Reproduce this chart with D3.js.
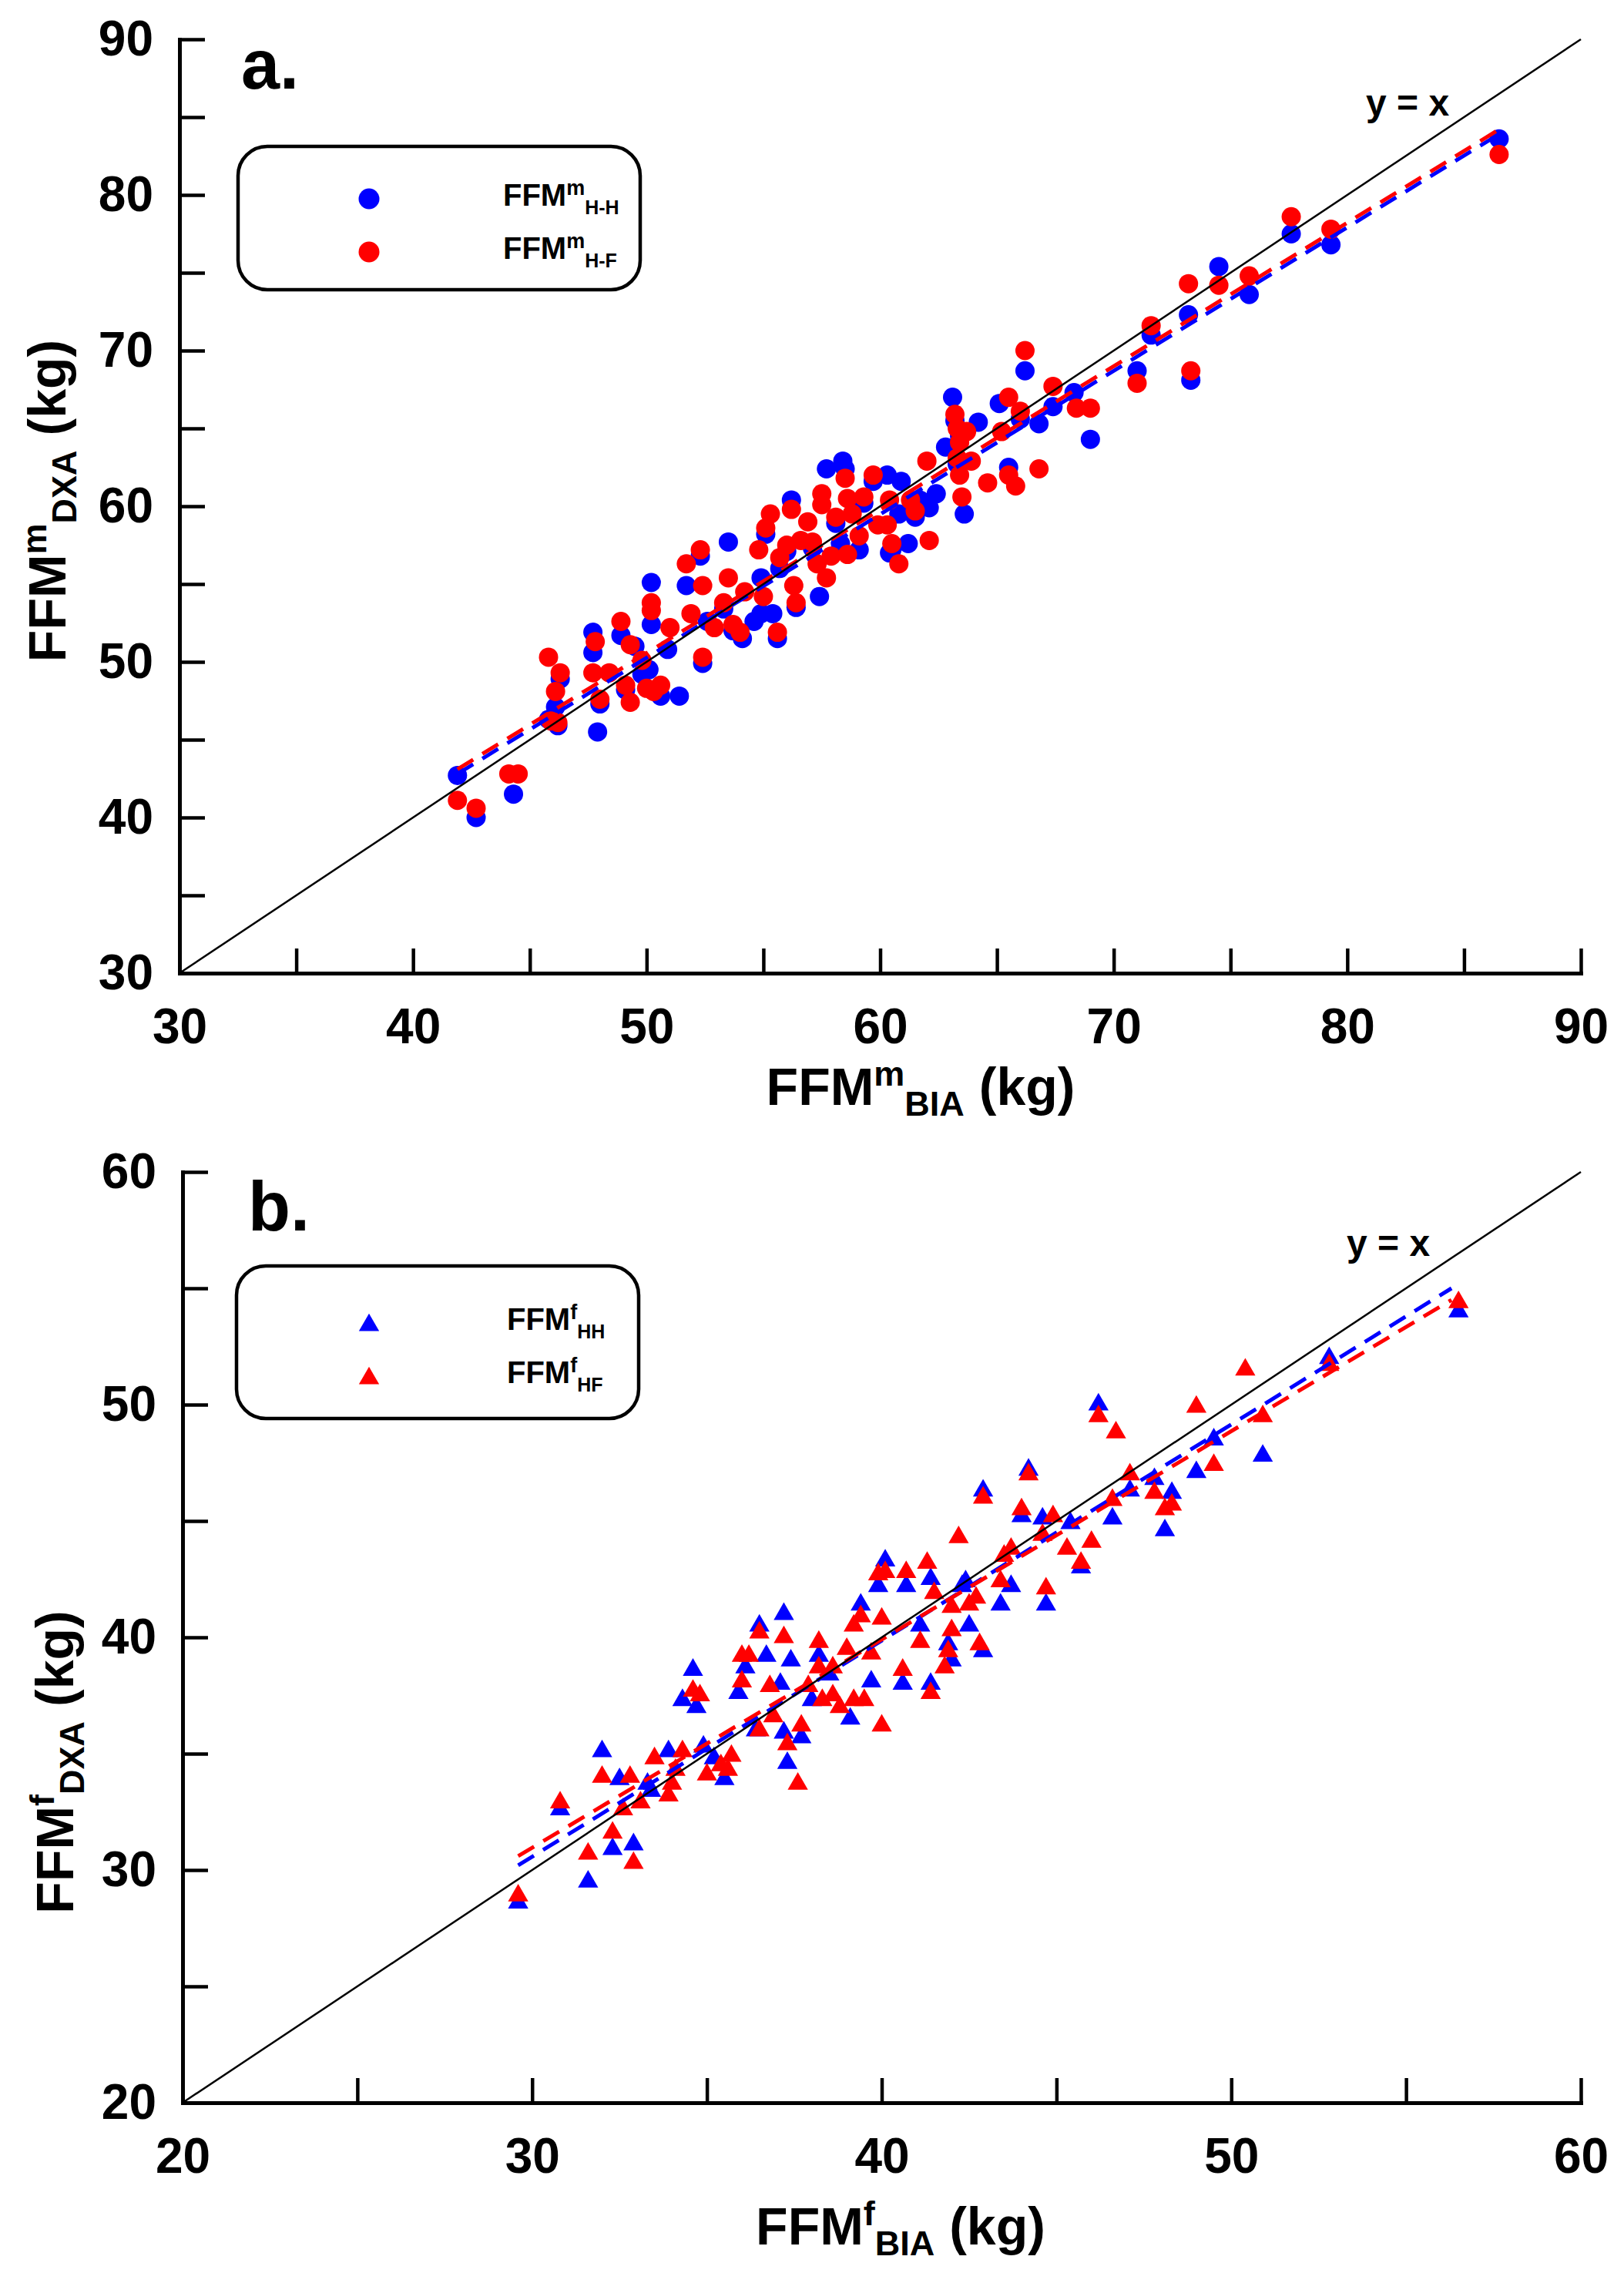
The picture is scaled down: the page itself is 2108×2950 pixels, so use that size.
<!DOCTYPE html>
<html><head><meta charset="utf-8">
<script src="https://cdn.jsdelivr.net/npm/d3@7"></script>
<style>
body{margin:0;background:#fff}
svg text{font-family:"Liberation Sans",Arial,Helvetica,sans-serif;font-weight:bold;fill:#000}
</style></head>
<body><svg id="c" width="2108" height="2950"></svg>
<script>
// ---------- DATA ----------
// Panel a (males): [FFM_BIA, FFM_DXA]
const maleHH = [[41.9,42.7],[42.7,40.0],[44.3,41.5],[45.8,46.3],[46.1,47.1],[46.3,48.9],[47.7,51.9],[47.7,50.6],[47.9,45.5],[48.9,51.7],[49.5,51.0],[49.8,49.2],[50.2,55.1],[50.2,52.4],[50.1,49.5],[50.6,47.8],[50.9,50.8],[51.4,47.8],[51.7,54.9],[52.4,49.9],[52.6,52.6],[53.5,57.7],[54.1,51.5],[54.6,52.6],[54.9,55.4],[54.9,53.1],[55.4,53.1],[55.7,56.0],[56.2,60.4],[57.4,54.2],[57.7,62.4],[58.3,57.6],[58.4,62.9],[58.5,62.4],[59.1,57.2],[60.3,62.0],[60.4,57.0],[60.8,59.5],[60.9,61.6],[61.2,57.6],[61.7,60.4],[62.1,59.9],[62.4,60.8],[62.8,63.8],[63.1,67.0],[63.6,59.5],[64.2,65.4],[65.1,66.6],[66.0,65.6],[66.2,68.7],[66.8,65.3],[67.4,66.4],[68.3,67.3],[69.0,64.3],[71.0,68.7],[71.6,71.0],[73.2,72.3],[73.3,68.1],[74.5,75.4],[75.8,73.6],[77.6,77.5],[79.3,76.8],[86.5,83.6],
[46.2,45.9],[48.0,47.3],[49.1,48.2],[52.3,56.8],[53.3,53.4],[55.1,58.2],[56.0,57.1],[57.1,57.3],[58.1,58.9],[59.7,61.6],[60.5,57.2],[61.5,59.3],[63.3,62.7],[63.4,64.5],[65.5,62.5],[55.6,51.5],[53.7,52.0],[56.4,53.5],[59.3,60.2],[63.2,65.5]];
const maleHF = [[41.9,41.1],[42.7,40.6],[44.1,42.8],[44.5,42.8],[45.9,46.2],[45.8,50.3],[46.1,48.1],[46.2,46.1],[46.3,49.3],[47.8,51.3],[47.7,49.3],[48.0,47.6],[48.4,49.3],[48.9,52.6],[49.1,48.5],[49.3,47.4],[49.3,51.1],[49.8,50.1],[50.0,48.3],[50.2,53.8],[50.2,53.3],[50.3,48.1],[50.6,48.5],[51.0,52.2],[51.7,56.3],[51.9,53.1],[52.3,57.2],[52.4,54.9],[52.4,50.3],[52.9,52.2],[53.3,53.8],[53.5,55.4],[53.7,52.4],[54.0,51.9],[54.2,54.5],[54.8,57.2],[55.0,54.2],[55.1,58.6],[55.3,59.5],[55.6,51.9],[55.7,56.7],[56.0,57.5],[56.2,59.8],[56.3,54.9],[56.4,53.8],[56.6,57.8],[56.9,59.0],[57.1,57.7],[57.3,56.3],[57.5,60.8],[57.5,60.1],[57.7,55.4],[57.9,56.8],[58.1,59.3],[58.5,61.8],[58.6,60.5],[58.6,56.9],[58.8,59.5],[59.1,58.1],[59.3,60.6],[59.7,62.0],[59.9,58.8],[60.4,60.4],[60.3,58.8],[60.5,57.6],[60.8,56.3],[61.3,60.4],[61.5,59.7],[62.0,62.9],[62.1,57.8],[63.2,65.9],[63.3,65.0],[63.4,64.1],[63.3,63.1],[63.4,62.0],[63.5,60.6],[63.7,64.8],[63.9,62.9],[64.6,61.5],[65.2,64.8],[65.5,67.0],[65.5,62.0],[65.8,61.3],[66.0,66.1],[66.2,70.0],[66.8,62.4],[67.4,67.7],[68.4,66.3],[69.0,66.3],[71.0,67.9],[71.6,71.6],[73.2,74.3],[73.3,68.7],[74.5,74.2],[75.8,74.8],[77.6,78.6],[79.3,77.8],[86.5,82.6]];
const maleFitHH = [[41.9,42.8],[86.6,84.0]];
const maleFitHF = [[41.9,43.1],[86.6,84.3]];

// Panel b (females)
const femaleHH = [[29.6,28.6],[30.8,32.6],[31.6,29.5],[32.0,35.1],[32.3,30.9],[32.5,33.9],[32.9,31.1],[33.3,33.7],[33.4,33.4],[33.9,35.1],[34.3,37.3],[34.6,38.6],[34.7,37.0],[34.9,35.3],[35.2,34.8],[35.5,33.9],[35.9,37.6],[36.1,38.7],[36.4,36.0],[36.5,40.5],[36.7,39.2],[37.1,38.0],[37.2,41.0],[37.2,35.9],[37.3,34.6],[37.4,39.0],[37.7,35.7],[38.0,37.3],[38.2,39.2],[38.5,38.4],[39.1,36.5],[39.4,41.4],[39.7,38.1],[39.9,42.2],[40.1,43.3],[40.6,38.0],[40.7,42.2],[41.1,40.5],[41.4,42.5],[41.4,38.0],[41.9,39.7],[42.0,39.0],[42.3,42.2],[42.4,42.4],[42.5,40.5],[42.9,46.3],[42.9,39.4],[43.4,41.4],[43.7,42.2],[44.0,45.2],[44.2,47.2],[44.6,45.1],[44.7,41.4],[45.4,44.9],[45.7,43.0],[46.2,50.0],[46.6,45.1],[47.1,46.3],[47.8,46.8],[48.1,44.6],[48.3,46.2],[49.0,47.1],[49.5,48.5],[50.9,47.8],[52.8,52.0],[56.5,54.0]];
const femaleHF = [[29.6,28.9],[30.8,32.9],[31.6,30.7],[32.0,34.0],[32.3,31.6],[32.6,32.6],[32.9,30.3],[32.8,34.0],[33.1,32.9],[33.5,34.8],[33.9,33.2],[34.0,33.7],[34.1,34.3],[34.3,35.1],[34.6,37.7],[34.8,37.5],[35.0,34.1],[35.4,34.5],[35.6,34.3],[35.7,34.9],[36.0,38.1],[36.0,39.2],[36.2,39.2],[36.5,36.0],[36.5,40.2],[36.8,37.9],[36.9,36.6],[37.2,40.0],[37.3,35.4],[37.6,33.7],[37.7,36.2],[37.9,37.9],[38.2,38.7],[38.2,39.8],[38.3,37.3],[38.6,38.7],[38.6,37.5],[38.8,37.0],[39.0,39.5],[39.2,37.3],[39.5,37.3],[39.2,40.5],[39.4,40.9],[39.7,39.3],[39.9,42.7],[40.0,40.8],[40.1,42.8],[40.0,36.2],[40.6,38.6],[40.7,42.8],[41.1,39.8],[41.3,43.2],[41.4,37.6],[41.5,41.9],[41.8,38.7],[41.9,39.4],[42.0,40.3],[42.0,41.3],[42.2,44.3],[42.5,41.4],[42.7,41.7],[42.8,39.7],[42.9,46.0],[43.4,42.4],[43.5,43.5],[43.7,43.8],[44.0,45.5],[44.2,47.0],[44.6,44.4],[44.7,42.1],[44.9,45.2],[45.3,43.8],[45.7,43.2],[46.0,44.1],[46.2,49.5],[46.6,45.9],[46.7,48.8],[47.1,47.0],[47.8,46.2],[48.1,45.5],[48.3,45.7],[49.0,49.9],[49.5,47.4],[50.4,51.5],[50.9,49.5],[52.8,51.7],[56.5,54.4]];
const femaleFitHH = [[29.6,30.2],[56.3,55.0]];
const femaleFitHF = [[29.6,30.6],[56.3,54.5]];

const maleDomain = [30, 90];
const maleTicks = [30,35,40,45,50,55,60,65,70,75,80,85,90];
const maleTickLabels = [30,40,50,60,70,80,90];
const femaleDomain = [20, 60];
const femaleTicks = [20,25,30,35,40,45,50,55,60];
const femaleTickLabels = [20,30,40,50,60];

// ---------- DRAW ----------
const svg = d3.select("#c");
svg.append("rect").attr("width",2108).attr("height",2950).attr("fill","#fff");
const BLUE="#0000ff", RED="#ff0000";

function panel(o){
  const g = svg.append("g").attr("transform",`translate(${o.left},${o.top})`);
  const x = d3.scaleLinear().domain(o.domain).range([0,o.w]);
  const y = d3.scaleLinear().domain(o.domain).range([o.h,0]);

  const drawPts = (data,color)=>{
    if(o.shape==="circle"){
      g.append("g").selectAll("circle").data(data).join("circle")
        .attr("cx",d=>x(d[0])).attr("cy",d=>y(d[1])).attr("r",12.5).attr("fill",color);
    } else {
      const sym = d3.symbol().type(d3.symbolTriangle).size(300);
      g.append("g").selectAll("path").data(data).join("path")
        .attr("d",sym).attr("transform",d=>`translate(${x(d[0])},${y(d[1])})`).attr("fill",color);
    }
  };
  drawPts(o.s1,BLUE);
  drawPts(o.s2,RED);

  const line = d3.line().x(d=>x(d[0])).y(d=>y(d[1]));
  g.append("path").datum(o.fit1).attr("d",line).attr("stroke",BLUE).attr("stroke-width",5)
    .attr("stroke-dasharray","24,14").attr("fill","none");
  g.append("path").datum(o.fit2).attr("d",line).attr("stroke",RED).attr("stroke-width",5)
    .attr("stroke-dasharray","24,14").attr("fill","none");
  g.append("path").datum([[o.domain[0],o.domain[0]],[o.domain[1],o.domain[1]]]).attr("d",line)
    .attr("stroke","#000").attr("stroke-width",2.5).attr("fill","none");

  const fmt = d=> o.labels.includes(d) ? d : "";
  const xa = g.append("g").attr("transform",`translate(0,${o.h})`)
    .call(d3.axisBottom(x).tickValues(o.ticks).tickSizeInner(-32).tickSizeOuter(0).tickPadding(46).tickFormat(fmt));
  const ya = g.append("g")
    .call(d3.axisLeft(y).tickValues(o.ticks).tickSizeInner(-33).tickSizeOuter(0).tickPadding(34).tickFormat(fmt));
  [xa,ya].forEach(a=>{
    a.attr("font-family",null).attr("font-size",null);
    a.select(".domain").attr("stroke","#000").attr("stroke-width",5).attr("stroke-linecap","square");
    a.selectAll(".tick line").attr("stroke","#000").attr("stroke-width",4.5);
    a.selectAll(".tick text").attr("font-size",64).attr("fill","#000").style("font-weight","bold");
  });

  g.append("text").attr("x",o.letterX).attr("y",o.letterY).attr("font-size",90).text(o.letter);
  g.append("text").attr("x",o.yxX).attr("y",o.yxY).attr("font-size",48).text("y = x");

  const lg = g.append("g").attr("transform",`translate(${o.legX},${o.legY})`);
  lg.append("rect").attr("width",522).attr("height",o.legH).attr("rx",38).attr("ry",38)
    .attr("fill","#fff").attr("stroke","#000").attr("stroke-width",4.5);
  const rows = [{c:BLUE,sub:o.sub1,cy:o.row1},{c:RED,sub:o.sub2,cy:o.row1+69}];
  rows.forEach(r=>{
    if(o.shape==="circle") lg.append("circle").attr("cx",170).attr("cy",r.cy).attr("r",13.5).attr("fill",r.c);
    else lg.append("path").attr("d",d3.symbol().type(d3.symbolTriangle).size(300)).attr("transform",`translate(172,${r.cy+3})`).attr("fill",r.c);
    const t = lg.append("text").attr("x",o.legTextX).attr("y",r.cy+9).attr("font-size",40);
    t.append("tspan").text("FFM");
    t.append("tspan").attr("font-size",27).attr("dy",-14).text(o.sup);
    t.append("tspan").attr("font-size",25).attr("dy",25).text(r.sub);
  });

  const xt = svg.append("text").attr("x",o.xtX).attr("y",o.xtY).attr("text-anchor","middle").attr("font-size",68);
  xt.append("tspan").text("FFM");
  xt.append("tspan").attr("font-size",45).attr("dy",-25).text(o.sup);
  xt.append("tspan").attr("font-size",45).attr("dy",39).text("BIA");
  xt.append("tspan").attr("dy",-14).text(" (kg)");
  const yt = svg.append("text").attr("transform",`translate(${o.ytX},${o.ytY}) rotate(-90)`).attr("text-anchor","middle").attr("font-size",68);
  yt.append("tspan").text("FFM");
  yt.append("tspan").attr("font-size",45).attr("dy",-25).text(o.sup);
  yt.append("tspan").attr("font-size",45).attr("dy",39).text("DXA");
  yt.append("tspan").attr("dy",-14).text(" (kg)");
}

panel({left:233, top:51, w:1819, h:1212, domain:maleDomain, ticks:maleTicks, labels:maleTickLabels,
  s1:maleHH, s2:maleHF, fit1:maleFitHH, fit2:maleFitHF, shape:"circle",
  letter:"a.", letterX:80, letterY:64, yxX:1540, yxY:99,
  legX:76, legY:139, legH:186, row1:68, legTextX:344, sup:"m", sub1:"H-H", sub2:"H-F",
  xtX:1195, xtY:1434, ytX:85, ytY:650});

panel({left:237, top:1521, w:1815, h:1208, domain:femaleDomain, ticks:femaleTicks, labels:femaleTickLabels,
  s1:femaleHH, s2:femaleHF, fit1:femaleFitHH, fit2:femaleFitHF, shape:"triangle",
  letter:"b.", letterX:85, letterY:76, yxX:1511, yxY:109,
  legX:70, legY:122, legH:198, row1:74, legTextX:351, sup:"f", sub1:"HH", sub2:"HF",
  xtX:1169, xtY:2913, ytX:95, ytY:2287});
</script></body></html>
